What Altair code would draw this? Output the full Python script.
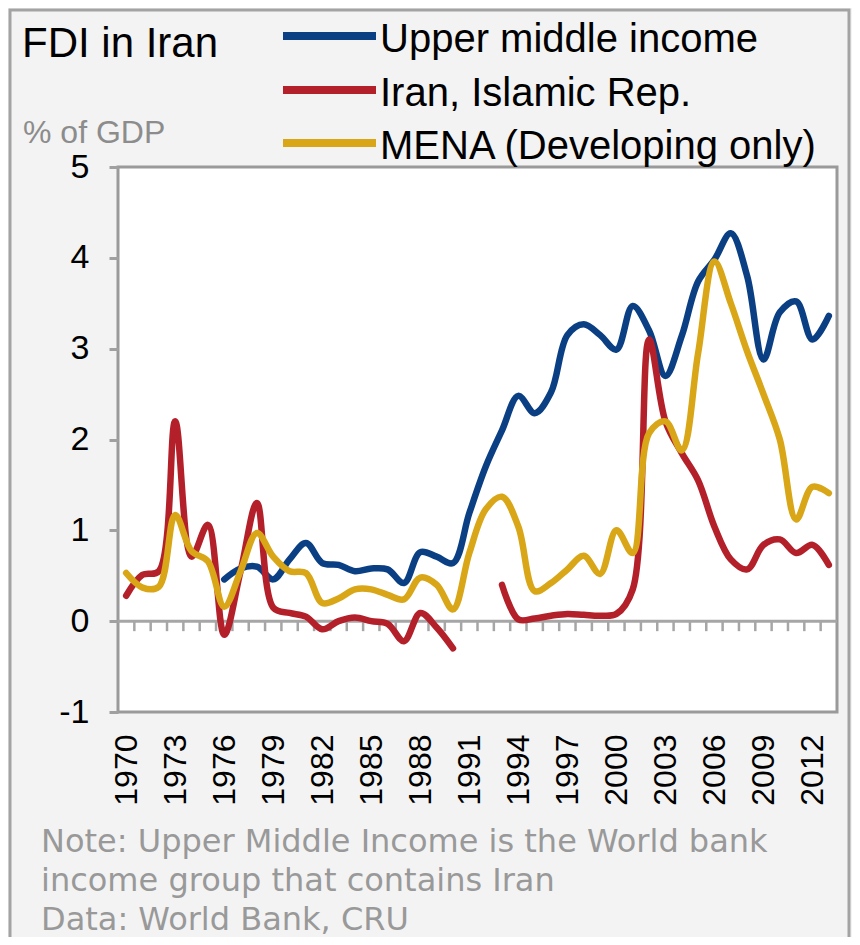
import altair as alt
import pandas as pd

# ---------------- data ----------------
years = list(range(1970, 2014))
label_years = list(range(1970, 2013, 3))

series_names = ["Upper middle income", "Iran, Islamic Rep.", "MENA (Developing only)"]
series_colors = ["#0b3f84", "#b3202a", "#d9a617"]

upper_middle = [None, None, None, None, None, None,
                0.46, 0.58, 0.60, 0.46, 0.68, 0.86, 0.64, 0.62, 0.55, 0.58,
                0.57, 0.42, 0.76, 0.71, 0.64, 1.19, 1.70, 2.10, 2.48, 2.29,
                2.52, 3.15, 3.27, 3.15, 2.99, 3.47, 3.20, 2.70, 3.14, 3.74,
                3.98, 4.27, 3.80, 2.88, 3.40, 3.52, 3.10, 3.36]

iran = [0.28, 0.51, 0.55, 2.20, 0.71, 1.06, -0.15, 0.55, 1.30, 0.15,
        0.09, 0.05, -0.09, 0.00, 0.04, 0.00, -0.03, -0.22, 0.09, -0.07,
        -0.30, None, None, 0.40, 0.02, 0.03, 0.06, 0.08, 0.07, 0.06,
        0.08, 0.35, 3.10, 2.20, 1.85, 1.55, 1.04, 0.68, 0.57, 0.84,
        0.90, 0.75, 0.84, 0.62]

mena = [0.53, 0.37, 0.38, 1.17, 0.77, 0.66, 0.16, 0.55, 0.97, 0.71,
        0.55, 0.53, 0.20, 0.25, 0.35, 0.35, 0.29, 0.24, 0.48, 0.40,
        0.13, 0.75, 1.23, 1.37, 1.04, 0.33, 0.42, 0.57, 0.72, 0.52,
        1.00, 0.75, 2.07, 2.20, 1.88, 2.95, 3.96, 3.50, 2.97, 2.50,
        2.00, 1.12, 1.48, 1.41]

y_ticks = [-1, 0, 1, 2, 3, 4, 5]

title_text = "FDI in Iran"
unit_text = "% of GDP"
note_lines = ["Note: Upper Middle Income is the World bank",
              "income group that contains Iran",
              "Data: World Bank, CRU"]

# ---------------- build tables ----------------
frames = []
for name, vals in zip(series_names, [upper_middle, iran, mena]):
    s = pd.DataFrame({"year": years, "value": vals, "series": name})
    s["seg"] = s["value"].isna().cumsum()
    frames.append(s.dropna())
df = pd.concat(frames, ignore_index=True)

bounds = pd.DataFrame({"b": [y + 0.5 for y in years[:-1]]})
one = pd.DataFrame({"k": [0]})

W, H = 719, 545
FONT = "Liberation Sans"

x_scale = alt.Scale(domain=[years[0] - 0.5, years[-1] + 0.5], nice=False, zero=False)
y_scale = alt.Scale(domain=[min(y_ticks), max(y_ticks)], nice=False, zero=False)

x_axis = alt.Axis(values=label_years, labelExpr="toString(datum.value)", labelAngle=270,
                  ticks=False, tickSize=0, domain=False, grid=False, labelPadding=22,
                  labelFontSize=32, labelFont=FONT, labelColor="black", title=None)
y_axis = alt.Axis(values=y_ticks, labelExpr="toString(datum.value)", domain=False,
                  grid=False, tickColor="#a0a0a0", tickSize=9, tickWidth=3,
                  labelFontSize=34, labelFont=FONT, labelColor="black",
                  labelPadding=20, title=None)

layers = []
for name, color in zip(series_names, series_colors):
    layers.append(
        alt.Chart(df).transform_filter(alt.datum.series == name).mark_line(
            color=color, strokeWidth=6.5, interpolate="catmull-rom",
            strokeCap="round", strokeJoin="round"
        ).encode(
            x=alt.X("year:Q", scale=x_scale, axis=x_axis),
            y=alt.Y("value:Q", scale=y_scale, axis=y_axis),
            detail="seg:N",
        )
    )

# zero line and its category ticks (drawn beneath the series)
zero_line = alt.Chart(one).mark_rule(color="#a6a6a6", strokeWidth=3).encode(
    y=alt.Y(datum=0, scale=y_scale, axis=y_axis)
)
zero_ticks = alt.Chart(bounds).mark_rule(color="#a6a6a6", strokeWidth=2.5).encode(
    x=alt.X("b:Q", scale=x_scale, axis=x_axis),
    y=alt.Y(datum=0, scale=y_scale, axis=y_axis),
    y2=alt.datum(-0.11),
)
layers = [zero_line, zero_ticks] + layers

# title, unit label
layers.append(alt.Chart(one).mark_text(
    text=title_text, font=FONT, fontSize=42, align="left", baseline="alphabetic",
    color="black").encode(x=alt.value(-96), y=alt.value(-110)))
layers.append(alt.Chart(one).mark_text(
    text=unit_text, font=FONT, fontSize=32, align="left", baseline="alphabetic",
    color="#8c8c8c").encode(x=alt.value(-95), y=alt.value(-24)))

# manual legend
leg_sym_y = [-131, -77, -24]
for i, (name, color) in enumerate(zip(series_names, series_colors)):
    layers.append(alt.Chart(one).mark_rule(color=color, strokeWidth=8).encode(
        x=alt.value(165), x2=alt.value(258), y=alt.value(leg_sym_y[i])))
    layers.append(alt.Chart(one).mark_text(
        text=name, font=FONT, fontSize=40, align="left", baseline="alphabetic",
        color="black").encode(x=alt.value(262), y=alt.value(leg_sym_y[i] + 16)))

# notes
for i, line in enumerate(note_lines):
    layers.append(alt.Chart(one).mark_text(
        text=line, font="DejaVu Sans", fontSize=32, align="left",
        baseline="alphabetic", color="#999999").encode(
        x=alt.value(-77), y=alt.value(H + 140 + 39 * i)))

# outer frame
layers.append(alt.Chart(one).mark_rect(
    fillOpacity=0, stroke="#a3a3a3", strokeWidth=3).encode(
    x=alt.value(-108), x2=alt.value(W + 12), y=alt.value(-157), y2=alt.value(H + 260)))

chart = alt.layer(*layers).properties(
    width=W, height=H,
    autosize=alt.AutoSizeParams(type="none"),
    padding={"left": 110, "top": 159, "right": 15, "bottom": 225},
    background="#f3f3f3",
).configure_view(fill="white", stroke="#9a9a9a", strokeWidth=3)

chart.save("out.html", embed_options={"renderer": "svg", "actions": False})
